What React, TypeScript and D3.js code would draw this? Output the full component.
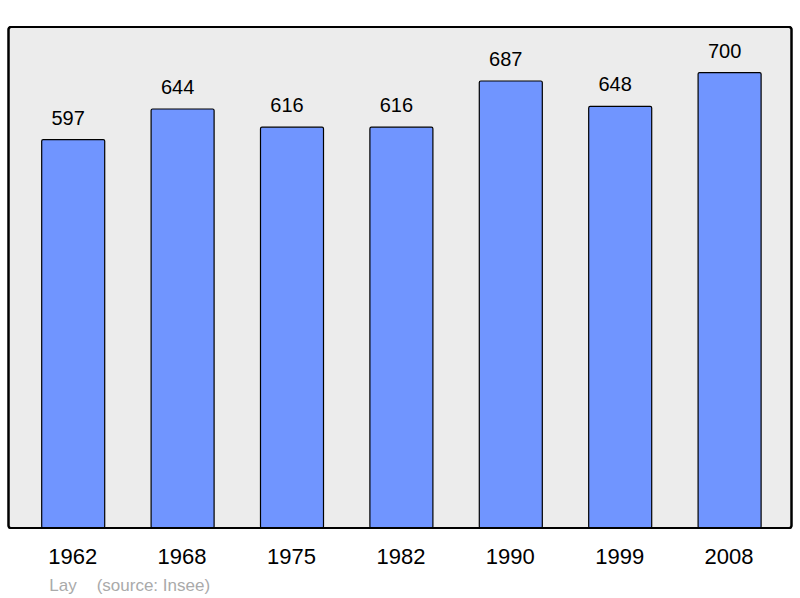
import React from "react";
import * as d3 from "d3";

const years = ["1962", "1968", "1975", "1982", "1990", "1999", "2008"];
const population = [597, 644, 616, 616, 687, 648, 700];
const commune = "Lay";
const source = "(source: Insee)";

const W = 800;
const H = 598;

export default function App() {
  const x = d3.scaleBand<string>().domain(years).range([18.5, 784.3]).paddingInner(0.424).paddingOuter(0.212);
  const yMax = (d3.max(population) ?? 0) * 1.1;
  const y = d3.scaleLinear().domain([0, yMax]).range([528, 27]);
  const font = "'Liberation Sans', Arial, sans-serif";
  return (
    <svg width={W} height={H} style={{ position: "absolute", left: 0, top: 0, display: "block", background: "#fff" }}>
      <rect x={8.5} y={27} width={783} height={501} rx={2.5} ry={2.5} fill="#ececec" stroke="#000" strokeWidth={2} />
      {years.map((yr, i) => {
        const x0 = x(yr) ?? 0;
        const top = y(population[i]);
        return (
          <g key={yr}>
            <rect x={x0} y={top} width={x.bandwidth()} height={y(0) - top} rx={1.5} ry={1.5} fill="#7095ff" stroke="#000" strokeWidth={1.2} />
            <text x={x0 + x.bandwidth() / 2 - 5} y={top - 15} textAnchor="middle" fontFamily={font} fontSize={20} fill="#000">
              {population[i]}
            </text>
            <text x={x0 + x.bandwidth() / 2 - 0.5} y={564.3} textAnchor="middle" fontFamily={font} fontSize={22} fill="#000">
              {yr}
            </text>
          </g>
        );
      })}
      <rect x={8.5} y={27} width={783} height={501} rx={2.5} ry={2.5} fill="none" stroke="#000" strokeWidth={2} />
      <text x={49.3} y={590.5} fontFamily={font} fontSize={17} fill="#aaaaaa">{commune}</text>
      <text x={96.7} y={590.5} fontFamily={font} fontSize={17} fill="#aaaaaa">{source}</text>
    </svg>
  );
}
